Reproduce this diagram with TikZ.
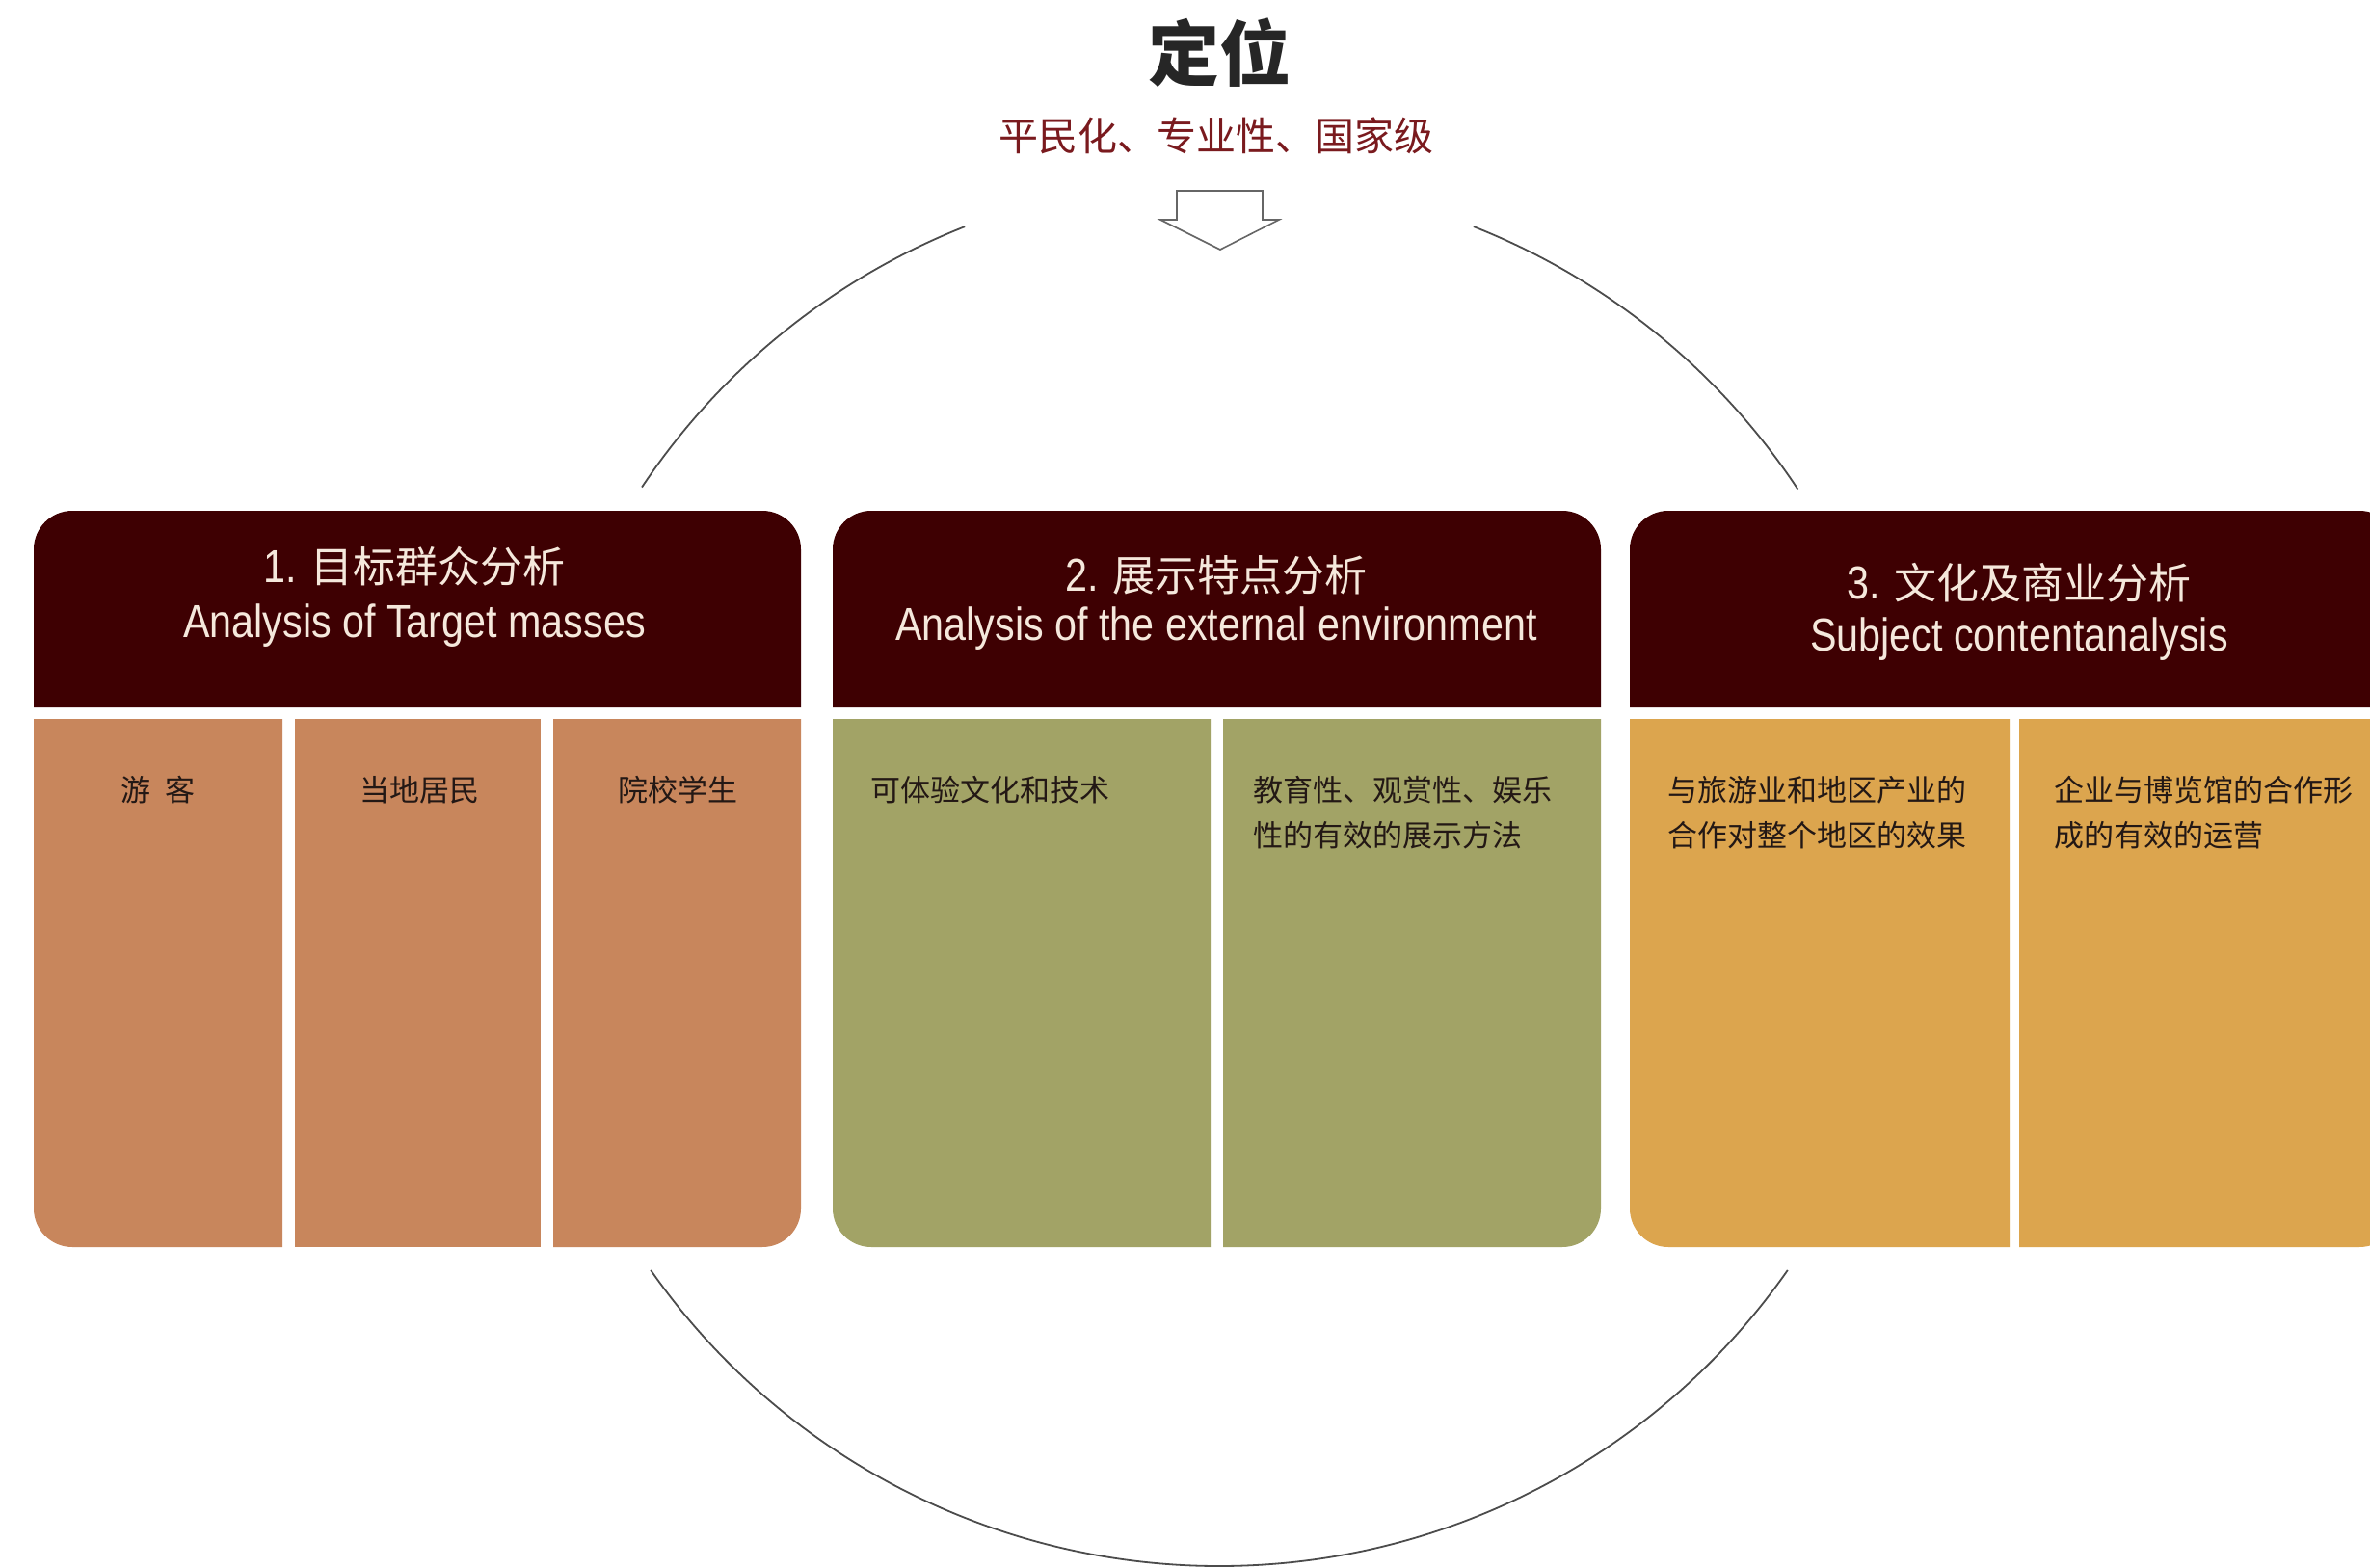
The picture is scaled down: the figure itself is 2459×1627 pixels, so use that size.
\documentclass[tikz,border=0pt]{standalone}
\usepackage{fontspec}
\newfontfamily\cjk{Noto Sans CJK SC}
\newfontfamily\lat[FakeStretch=0.86]{Liberation Sans}
\definecolor{hdr}{RGB}{62,0,2}
\definecolor{cA}{RGB}{200,134,92}
\definecolor{cB}{RGB}{162,163,102}
\definecolor{cC}{RGB}{220,165,78}
\definecolor{cream}{RGB}{245,232,220}
\definecolor{subred}{RGB}{122,26,30}
\definecolor{bodyink}{RGB}{35,24,21}
\tikzset{
  ring/.style={draw=black!70, line width=0.9pt},
  arrowshape/.style={draw=black!60, fill=white, line width=0.8pt, line join=miter},
  hdcjk/.style={text=cream, inner sep=0pt, font=\cjk\fontsize{22}{26}\selectfont},
  hdlat/.style={text=cream, inner sep=0pt, font=\lat\fontsize{24}{28}\selectfont},
  bodytext/.style={text=bodyink, inner sep=0pt, align=left, font=\cjk\fontsize{15.5}{23.5}\selectfont},
}
\begin{document}
\begin{tikzpicture}[x=0.5pt,y=-0.5pt]
\useasboundingbox (0,0) rectangle (2459,1627);
\clip (0,0) rectangle (2459,1627);
\fill[white] (0,0) rectangle (2459,1627);

% circle arcs
\coordinate (cc) at (1265,905);
\draw[ring] (cc) ++(-111.5:720) arc[start angle=-111.5, end angle=-146.3, radius=720];
\draw[ring] (cc) ++(-68.5:720) arc[start angle=-68.5, end angle=-33.5, radius=720];
\draw[ring] (cc) ++(145:720) arc[start angle=145, end angle=35, radius=720];

% title
\node[font=\cjk\bfseries\fontsize{37}{40}\selectfont, text=black!85] (title) at (1265,55) {定位};
\node[font=\cjk\fontsize{20.5}{24}\selectfont, text=subred] (subtitle) at (1262,141) {平民化、专业性、国家级};

% arrow
\draw[arrowshape] (1221,198) -- (1310,198) -- (1310,228) -- (1327,228) -- (1266,259) -- (1204,228) -- (1221,228) -- cycle;

% headers
\fill[hdr] (35,734) -- (35,570) arc[start angle=180, end angle=270, radius=40] -- (791,530) arc[start angle=270, end angle=360, radius=40] -- (831,734) -- cycle;
\fill[hdr] (864,734) -- (864,570) arc[start angle=180, end angle=270, radius=40] -- (1621,530) arc[start angle=270, end angle=360, radius=40] -- (1661,734) -- cycle;
\fill[hdr] (1691,734) -- (1691,570) arc[start angle=180, end angle=270, radius=40] -- (2448,530) arc[start angle=270, end angle=360, radius=40] -- (2488,734) -- cycle;

% body columns
\fill[cA] (35,746) -- (293,746) -- (293,1294) -- (75,1294) arc[start angle=90, end angle=180, radius=40] -- cycle;
\fill[cA] (306,746) rectangle (561,1294);
\fill[cA] (574,746) -- (831,746) -- (831,1254) arc[start angle=0, end angle=90, radius=40] -- (574,1294) -- cycle;
\fill[cB] (864,746) -- (1256,746) -- (1256,1294) -- (904,1294) arc[start angle=90, end angle=180, radius=40] -- cycle;
\fill[cB] (1269,746) -- (1661,746) -- (1661,1254) arc[start angle=0, end angle=90, radius=40] -- (1269,1294) -- cycle;
\fill[cC] (1691,746) -- (2085,746) -- (2085,1294) -- (1731,1294) arc[start angle=90, end angle=180, radius=40] -- cycle;
\fill[cC] (2095,746) -- (2488,746) -- (2488,1254) arc[start angle=0, end angle=90, radius=40] -- (2095,1294) -- cycle;

% header texts
\node[hdcjk] (h1a) at (430,588) {{\lat\fontsize{24}{28}\selectfont 1. }目标群众分析};
\node[hdlat] (h1b) at (430,649) {Analysis of Target masses};
\node[hdcjk] (h2a) at (1262,597) {{\lat\fontsize{24}{28}\selectfont 2. }展示特点分析};
\node[hdlat] (h2b) at (1262,652) {Analysis of the external environment};
\node[hdcjk] (h3a) at (2095,605) {{\lat\fontsize{24}{28}\selectfont 3. }文化及商业分析};
\node[hdlat] (h3b) at (2095,663) {Subject contentanalysis};

% body texts
\node[bodytext, anchor=north] (t11) at (164,805) {游\hspace{0.5em}客};
\node[bodytext, anchor=north] (t12) at (435,805) {当地居民};
\node[bodytext, anchor=north] (t13) at (703,805) {院校学生};
\node[bodytext, anchor=north west] (t21) at (903,805) {可体验文化和技术};
\node[bodytext, anchor=north west] (t22) at (1300,805) {教育性、观赏性、娱乐\\性的有效的展示方法};
\node[bodytext, anchor=north west] (t31) at (1730,805) {与旅游业和地区产业的\\合作对整个地区的效果};
\node[bodytext, anchor=north west] (t32) at (2131,805) {企业与博览馆的合作形\\成的有效的运营};
\end{tikzpicture}
\end{document}
